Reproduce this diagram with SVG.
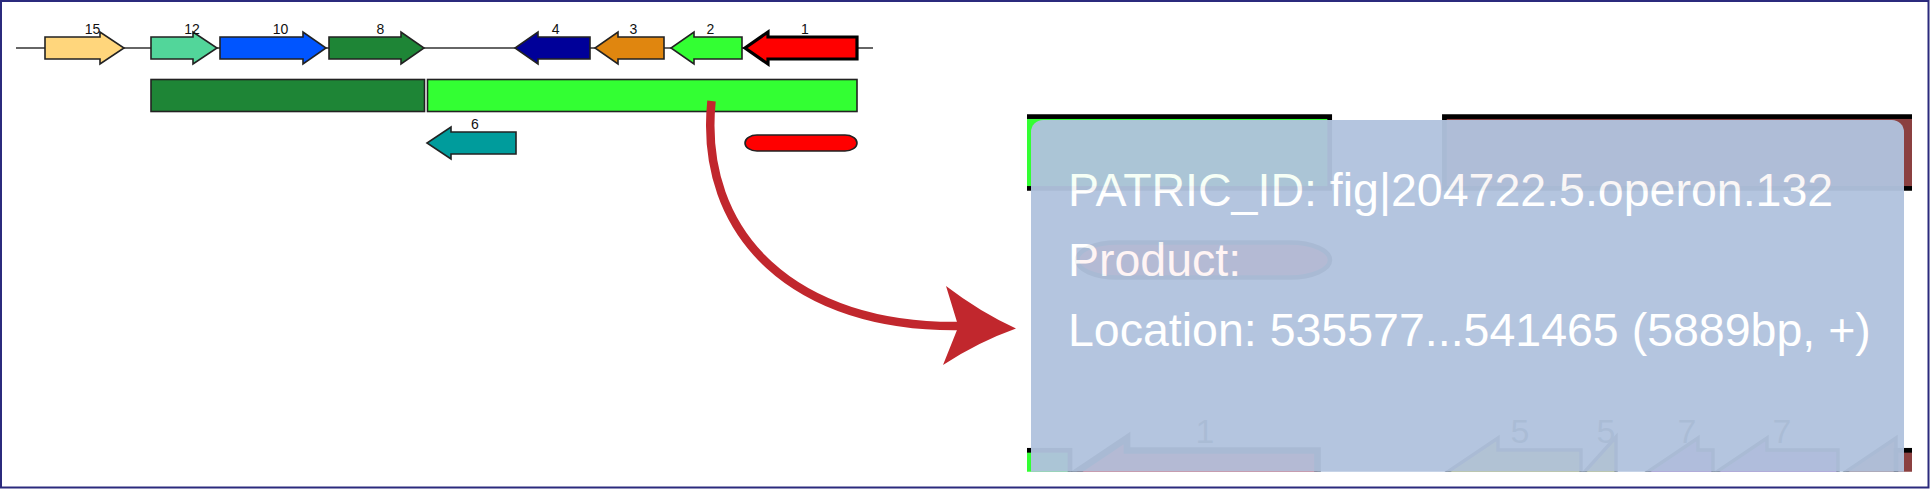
<svg xmlns="http://www.w3.org/2000/svg" width="1930" height="489" viewBox="0 0 1930 489">
<style>
.g{stroke:#222;stroke-width:1.6;stroke-linejoin:miter}
.lb{font-family:"Liberation Sans",Arial,sans-serif;font-size:14px;fill:#111;text-anchor:middle}
.tt{font-family:"Liberation Sans",Arial,sans-serif;font-size:46.500px;fill:#fff}
.gh{font-family:"Liberation Sans",Arial,sans-serif;font-size:34px;fill:#222;text-anchor:middle}
.bar{stroke:#000;stroke-width:4.700}
.thin{stroke:#111;stroke-width:3.400;stroke-linejoin:miter}
</style>
<defs>
<clipPath id="top"><rect x="1027" y="114" width="885" height="77"/></clipPath>
<clipPath id="bot"><rect x="1027" y="425" width="885" height="46.700"/></clipPath>
</defs>
<rect id="frame" x="1" y="1" width="1927.500" height="486.500" fill="#fff" stroke="#2b2a7d" stroke-width="2"/>
<g id="backbone">
<line x1="16" y1="48" x2="873" y2="48" stroke="#333" stroke-width="1.500"/>
</g>
<g id="gene15"><polygon class="g" fill="#ffd67c" points="45,37 100,37 100,32 124,48 100,64 100,59 45,59"/><text class="lb" x="92.500" y="34">15</text></g>
<g id="gene12"><polygon class="g" fill="#52d69a" points="151,37 193,37 193,32 217,48 193,64 193,59 151,59"/><text class="lb" x="192" y="34">12</text></g>
<g id="gene10"><polygon class="g" fill="#0055ff" points="220,37 303,37 303,32 326,48 303,64 303,59 220,59"/><text class="lb" x="280.500" y="34">10</text></g>
<g id="gene8"><polygon class="g" fill="#1e8536" points="329,37 401,37 401,32 424,48 401,64 401,59 329,59"/><text class="lb" x="380.500" y="34">8</text></g>
<g id="gene4"><polygon class="g" fill="#000099" points="590,37 538,37 538,32 515,48 538,64 538,59 590,59"/><text class="lb" x="555.700" y="34">4</text></g>
<g id="gene3"><polygon class="g" fill="#e0860f" points="664,37 618,37 618,32 595,48 618,64 618,59 664,59"/><text class="lb" x="633.500" y="34">3</text></g>
<g id="gene2"><polygon class="g" fill="#33ff33" points="742,37 694,37 694,32 671,48 694,64 694,59 742,59"/><text class="lb" x="710.500" y="34">2</text></g>
<g id="gene1"><polygon fill="#ff0000" stroke="#000" stroke-width="3.200" points="857,37 768,37 768,32 745,48 768,64 768,59 857,59"/><text class="lb" x="805" y="34">1</text></g>
<g id="operon-a"><rect class="g" fill="#1e8536" x="151" y="79.500" width="273.500" height="32"/></g>
<g id="operon-b"><rect class="g" fill="#33ff33" x="427.500" y="79.500" width="429.500" height="32"/></g>
<g id="gene6"><polygon class="g" fill="#009c9c" points="516,132 451,132 451,127 427,143 451,159 451,154 516,154"/><text class="lb" x="475" y="129">6</text></g>
<g id="capsule"><rect class="g" fill="#ff0000" x="745" y="135" width="112" height="16" rx="12" ry="8"/></g>
<g id="tooltip-under">
<g clip-path="url(#top)">
<rect class="bar" x="1000" y="116.600" width="329.700" height="71.800" fill="#33ff33"/>
<rect class="bar" x="1444.400" y="116.600" width="500" height="71.800" fill="#8b4040"/>
</g>
<rect x="1077" y="242.500" width="253" height="35" rx="40" ry="17.500" fill="#ff0000" stroke="#000" stroke-width="4.500"/>
<g clip-path="url(#bot)">
<rect class="bar" x="1000" y="450.300" width="70" height="60" fill="#33ff33"/>
<polygon fill="#ff0000" stroke="#000" stroke-width="6.700" points="1317.500,450.500 1127,450.500 1127,438 1060,483 1127,510 1317.500,510"/>
<polygon class="thin" fill="#c8bc00" points="1581,450 1498,450 1498,438 1440,477 1581,520"/>
<polygon class="thin" fill="#c8bc00" points="1616,437 1579,478 1616,520"/>
<polygon class="thin" fill="#9b48bc" points="1713,450 1698,450 1698,438 1640,477 1713,520"/>
<polygon class="thin" fill="#9b48bc" points="1838,450 1767,450 1767,438 1709,477 1838,520"/>
<polygon class="thin" fill="#8a4030" points="1896,438 1838,477 1896,520"/>
<rect class="bar" x="1896" y="450.300" width="60" height="60" fill="#8b4040"/>
</g>
<text class="gh" x="1205" y="443">1</text>
<text class="gh" x="1520" y="443">5</text>
<text class="gh" x="1606" y="443">5</text>
<text class="gh" x="1687" y="443">7</text>
<text class="gh" x="1782" y="443">7</text>
</g>
<g id="tooltip" opacity=".955">
<path d="M1031 471.700V132a12 12 0 0 1 12-12H1892a12 12 0 0 1 12 12V471.700Z" fill="#b1c3de"/>
<text class="tt" x="1068" y="205.500">PATRIC_ID: fig|204722.5.operon.132</text>
<text class="tt" x="1068" y="275.500">Product:</text>
<text class="tt" x="1068" y="345.500">Location: 535577...541465 (5889bp, +)</text>
</g>
<g id="connectors">
<path id="callout" d="M711.500 101C698 235 795 329 962 326" fill="none" stroke="#c1272d" stroke-width="8.500"/>
<path id="callout-head" d="M1016 328.500Q978 342 943 365L957 330V322L946 286Q980 312 1016 328.500Z" fill="#c1272d"/>
</g>
</svg>
